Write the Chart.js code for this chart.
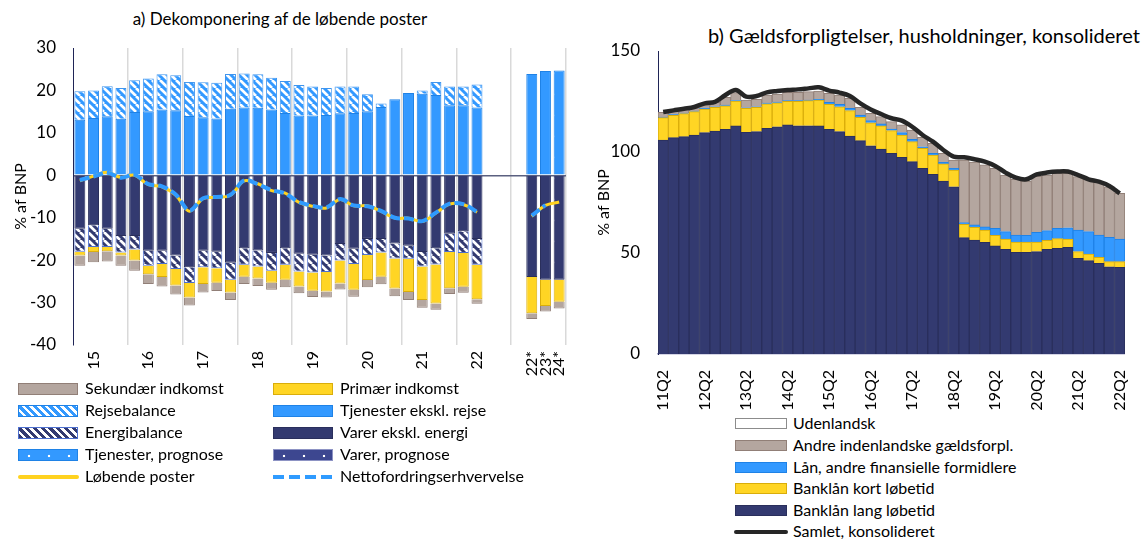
<!DOCTYPE html>
<html lang="da">
<head>
<meta charset="utf-8">
<script src="https://cdn.jsdelivr.net/npm/chart.js@4"></script>
<style>
  body { margin: 0; background: #fff; font-family: Lato, "Noto Sans", sans-serif; color: #000; }
  #wrap { position: relative; width: 1147px; height: 540px; overflow: hidden; }
  canvas { position: absolute; }
  .title { position: absolute; font-size: 17px; white-space: nowrap; }
  .leg { position: absolute; font-size: 16px; white-space: nowrap; line-height: 18px; }
  .sw { position: absolute; box-sizing: border-box; }
</style>
</head>
<body>
<div id="wrap">
  <div class="title" style="left:0;width:560px;top:8px;text-align:center">a) Dekomponering af de løbende poster</div>
  <div class="title" style="left:708px;top:23px;font-size:20px">b) Gældsforpligtelser, husholdninger, konsolideret</div>
  <canvas id="chartA" width="590" height="382" style="left:0;top:0"></canvas>
  <canvas id="chartB" width="557" height="410" style="left:590px;top:0"></canvas>
  <div id="legendA"></div>
  <div id="legendB"></div>
</div>
<script>
// Venstre figur: kvartaler 2015K1-2022K2, tomme pladser og prognoser 22*-24*
const labelsA = [
  "15K1", "15K2", "15K3", "15K4", "16K1", "16K2", "16K3", "16K4",
  "17K1", "17K2", "17K3", "17K4", "18K1", "18K2", "18K3", "18K4",
  "19K1", "19K2", "19K3", "19K4", "20K1", "20K2", "20K3", "20K4",
  "21K1", "21K2", "21K3", "21K4", "22K1", "22K2", "22K3", "22K4",
  "", "22*", "23*", "24*",
];
const N = null;
const tjenester = [13.1, 13.5, 13.9, 13.3, 14.9, 15.1, 15.5, 15.3, 14.0, 13.7, 13.4, 15.7, 16.0, 15.9, 15.5, 14.7,
  14.1, 14.1, 14.2, 14.6, 14.7, 15.1, 16.1, 17.9, 19.4, 19.2, 18.9, 16.5, 16.5, 16.0, N, N, N, N, N, N];
const rejse = [6.7, 6.5, 7.1, 7.3, 7.5, 7.7, 8.3, 8.3, 8.0, 8.2, 8.4, 8.2, 8.0, 7.9, 7.5, 7.5,
  7.2, 6.8, 6.4, 6.3, 6.2, 4.0, 0.8, 0, 0, 0.8, 3.1, 4.4, 4.4, 5.4, N, N, N, N, N, N];
const tjenesterPrognose = [N, N, N, N, N, N, N, N, N, N, N, N, N, N, N, N, N, N, N, N, N, N, N, N,
  N, N, N, N, N, N, N, N, N, 23.9, 24.6, 24.7];
const varer = [-12.6, -11.8, -12.6, -14.3, -14.3, -17.8, -17.8, -18.9, -21.7, -17.8, -18.0, -20.6, -17.2, -17.7, -18.3, -17.2,
  -18.5, -18.7, -18.9, -16.2, -17.3, -15.0, -15.0, -16.1, -16.6, -18.1, -17.2, -13.8, -13.2, -15.0, N, N, N, N, N, N];
const varerPrognose = [N, N, N, N, N, N, N, N, N, N, N, N, N, N, N, N, N, N, N, N, N, N, N, N,
  N, N, N, N, N, N, N, N, N, -24.0, -24.6, -24.6];
const energi = [-5.4, -5.1, -4.3, -3.9, -3.2, -3.5, -3.1, -3.2, -3.7, -3.9, -3.9, -4.0, -3.9, -3.8, -4.2, -3.9,
  -4.2, -4.2, -3.9, -3.9, -3.6, -3.8, -3.2, -3.5, -3.1, -3.4, -3.8, -4.3, -5.1, -6.1, N, N, N, N, N, N];
const primaer = [-0.9, -1.2, -1.0, -0.7, -2.6, -2.0, -3.1, -3.9, -3.4, -3.9, -3.4, -3.0, -2.8, -2.8, -2.8, -3.5,
  -3.5, -4.3, -4.6, -5.4, -6.1, -5.9, -5.7, -7.1, -7.8, -7.9, -9.2, -8.5, -8.0, -8.1, N, N, N, -8.5, -6.2, -5.2];
const sekundaer = [-2.4, -2.4, -2.4, -2.4, -2.4, -2.3, -2.2, -2.1, -1.9, -2.0, -2.0, -1.8, -1.7, -1.8, -1.7, -1.8,
  -1.6, -1.5, -1.4, -1.4, -1.6, -1.7, -1.8, -1.8, -1.9, -1.8, -1.5, -1.4, -1.4, -1.1, N, N, N, -1.4, -1.3, -1.6];
const loebendePoster = [-1.3, -0.2, 0.7, -0.5, 0.0, -2.2, -2.7, -4.7, -8.5, -5.5, -5.2, -4.7, -1.3, -2.0, -3.6, -4.2,
  -6.4, -7.3, -7.7, -5.7, -7.2, -7.2, -8.5, -10.1, -10.1, -10.9, -8.9, -6.8, -6.9, -8.7, N, N, N, -9.7, -7.1, -6.3];
const nettofordring = [-1.1, -0.3, 0.6, -0.6, 0.1, -2.1, -2.6, -4.5, -8.3, -5.4, -5.1, -4.6, -1.2, -2.1, -3.5, -4.3,
  -6.3, -7.2, -7.6, -5.6, -7.1, -7.3, -8.4, -10.0, -10.2, -10.8, -8.8, -6.7, -6.8, -8.6, N, N, N, -9.5, -7.0, N];
const ticksA = [-40, -30, -20, -10, 0, 10, 20, 30];

// Højre figur: kvartaler 2011K2-2022K2
const labelsB = [
  "11Q2", "11Q3", "11Q4", "12Q1", "12Q2", "12Q3", "12Q4", "13Q1", "13Q2", "13Q3", "13Q4", "14Q1",
  "14Q2", "14Q3", "14Q4", "15Q1", "15Q2", "15Q3", "15Q4", "16Q1", "16Q2", "16Q3", "16Q4", "17Q1",
  "17Q2", "17Q3", "17Q4", "18Q1", "18Q2", "18Q3", "18Q4", "19Q1", "19Q2", "19Q3", "19Q4", "20Q1",
  "20Q2", "20Q3", "20Q4", "21Q1", "21Q2", "21Q3", "21Q4", "22Q1", "22Q2",
];
const bankLang = [105.9, 107.1, 107.6, 108.4, 109.6, 110.4, 111.2, 112.9, 109.7, 110.1, 111.7, 112.5, 113.4, 113.0, 113.0,
  112.9, 111.2, 110.1, 107.9, 105.6, 103.1, 101.5, 99.3, 97.4, 95.2, 91.9, 88.9, 85.6, 82.8, 57.6,
  56.4, 55.3, 53.5, 51.8, 50.3, 50.3, 50.7, 51.8, 52.3, 52.8, 47.4, 46.2, 44.9, 43.2, 42.9];
const bankKort = [11.1, 11.1, 11.4, 11.6, 11.7, 11.7, 11.7, 12.3, 11.9, 12.0, 12.2, 11.9, 11.7, 12.1, 12.4,
  12.8, 12.4, 12.3, 12.6, 11.6, 11.4, 11.4, 11.3, 11.0, 9.9, 9.9, 9.6, 8.5, 8.3, 6.6,
  6.3, 6.1, 5.2, 5.1, 5.1, 5.1, 4.7, 4.5, 4.8, 4.1, 3.3, 3.3, 3.0, 2.5, 2.8];
const laanAndre = [0.3, 0.3, 0.3, 0.3, 0.3, 0.3, 0.3, 0.3, 0.3, 0.3, 0.3, 0.3, 0.3, 0.3, 0.3,
  0.4, 1.0, 1.2, 1.1, 1.1, 1.0, 1.0, 0.8, 1.2, 1.2, 0.8, 0.8, 0.8, 0.8, 0.8,
  1.2, 1.5, 3.5, 3.7, 3.5, 3.3, 4.8, 4.8, 5.1, 5.6, 10.7, 11.1, 11.0, 12.1, 11.2];
const andreIndl = [2.3, 2.0, 1.8, 1.7, 1.7, 2.2, 3.9, 3.9, 3.8, 3.7, 4.0, 4.0, 4.1, 4.1, 4.2,
  4.1, 4.4, 4.6, 5.0, 3.8, 3.6, 3.6, 3.6, 3.8, 4.6, 4.7, 5.0, 4.4, 4.1, 31.0,
  31.1, 30.7, 29.7, 28.0, 27.6, 26.9, 27.7, 27.5, 27.2, 26.9, 26.4, 25.9, 26.4, 25.0, 22.6];
const udenlandsk = [0, 0, 0, 0, 0, 0, 0, 0, 0, 0, 0, 0, 0, 0, 0, 0, 0, 0, 0, 0, 0, 0, 0,
  0, 0, 0, 0, 0, 0, 0, 0, 0, 0, 0, 0, 0, 0, 0, 0, 0, 0, 0, 0, 0, 0];
const samlet = [119.8, 120.6, 121.4, 122.3, 124.1, 124.8, 128.2, 130.7, 127.4, 127.7, 129.5, 130.2, 130.7, 131.0, 131.5,
  132.0, 130.4, 129.4, 127.7, 124.1, 121.1, 118.8, 116.7, 115.5, 112.5, 108.4, 105.1, 101.0, 97.7, 97.4,
  96.4, 95.2, 93.1, 89.8, 87.3, 86.5, 88.9, 89.8, 90.3, 90.3, 88.6, 86.5, 85.3, 83.2, 79.5];

const C = {
  blue: "#3399ff", blueLine: "#1f82e6", navy: "#333a70", navyLine: "#2a2f5c",
  yellow: "#ffd524", yellowLine: "#d9ad0b", grey: "#b4a69f", greyLine: "#917f77",
};

function stripes(bg, fg, size) {
  const c = document.createElement("canvas");
  c.width = c.height = size;
  const g = c.getContext("2d");
  g.fillStyle = bg;
  g.fillRect(0, 0, size, size);
  g.strokeStyle = fg;
  g.lineWidth = size / 3;
  g.beginPath();
  for (const o of [-size, 0, size]) {
    g.moveTo(o, 0);
    g.lineTo(o + size, size);
  }
  g.stroke();
  return g.createPattern(c, "repeat");
}

function dots(bg, w, h) {
  const c = document.createElement("canvas");
  c.width = w;
  c.height = h;
  const g = c.getContext("2d");
  g.fillStyle = bg;
  g.fillRect(0, 0, w, h);
  g.fillStyle = "rgba(255,255,255,0.85)";
  g.beginPath();
  g.arc(w / 2, h / 2, 1.4, 0, Math.PI * 2);
  g.fill();
  return g.createPattern(c, "repeat");
}

const font = { family: "Lato", size: 17 };

document.addEventListener("DOMContentLoaded", () => {
  const bar = (label, data, bg, border) => ({
    type: "bar", label, data, backgroundColor: bg, borderColor: border, borderWidth: 1, order: 2,
  });

  new Chart(document.getElementById("chartA"), {
    type: "bar",
    data: {
      labels: labelsA,
      datasets: [
        bar("Tjenester ekskl. rejse", tjenester, C.blue, C.blueLine),
        bar("Tjenester, prognose", tjenesterPrognose, dots(C.blue, 14, 21), C.blueLine),
        bar("Rejsebalance", rejse, stripes(C.blue, "#ffffff", 8), "#3f95ee"),
        bar("Varer ekskl. energi", varer, C.navy, C.navyLine),
        bar("Varer, prognose", varerPrognose, dots(C.navy, 14, 21), C.navyLine),
        bar("Energibalance", energi, stripes(C.navy, "#ffffff", 8), "#4d6fcf"),
        bar("Primær indkomst", primaer, C.yellow, C.yellowLine),
        bar("Sekundær indkomst", sekundaer, C.grey, C.greyLine),
        // linjerne har hver sin stak, så de ikke lægges oven i hinanden
        {
          type: "line", label: "Løbende poster", data: loebendePoster, order: 1, stack: "lp",
          borderColor: "#ffd21f", borderWidth: 3, pointRadius: 0, tension: 0.35, spanGaps: false,
        },
        {
          type: "line", label: "Nettofordringserhvervelse", data: nettofordring, order: 0, stack: "nf",
          borderColor: "#2f9bff", borderWidth: 4, borderDash: [10, 4], pointRadius: 0, tension: 0.35, spanGaps: false,
        },
      ],
    },
    options: {
      responsive: false,
      animation: false,
      layout: { padding: { top: 48, right: 24, left: 0, bottom: 0 } },
      datasets: { bar: { categoryPercentage: 1, barPercentage: 0.8 } },
      plugins: { legend: { display: false }, tooltip: { enabled: false } },
      scales: {
        x: {
          stacked: true,
          afterFit: (s) => { s.height = 37; },
          border: { display: false },
          grid: {
            offset: true,
            drawTicks: false,
            lineWidth: 1.5,
            color: (ctx) => (ctx.index === undefined || (ctx.index > 0 && ctx.index % 4 === 0)) ? "#d9d9d9" : "transparent",
          },
          ticks: {
            autoSkip: false, maxRotation: 90, minRotation: 90, padding: 6, color: "#000",
            font: { family: "Lato", size: 16 },
            callback: (v, i) => {
              const l = labelsA[i];
              if (l.includes("*")) return l;
              return l.endsWith("K2") ? l.slice(0, 2) : "";
            },
          },
        },
        y: {
          stacked: true,
          z: 1,
          min: ticksA[0],
          max: ticksA[ticksA.length - 1],
          afterFit: (s) => { s.width = 73; },
          afterBuildTicks: (s) => { s.ticks = ticksA.map((v) => ({ value: v })); },
          border: { color: "#1f2456", width: 1 },
          grid: {
            drawTicks: false,
            lineWidth: 1.5,
            color: (ctx) => (ctx.tick && ctx.tick.value === 0 ? "#5b6080" : "transparent"),
          },
          ticks: { padding: 17, color: "#000", font },
          title: { display: true, text: "% af BNP", color: "#000", font: { family: "Lato", size: 16 }, padding: { top: 11, bottom: 0 } },
        },
      },
    },
  });

  new Chart(document.getElementById("chartB"), {
    type: "bar",
    data: {
      labels: labelsB,
      datasets: [
        bar("Banklån lang løbetid", bankLang, C.navy, C.navyLine),
        bar("Banklån kort løbetid", bankKort, C.yellow, C.yellowLine),
        bar("Lån, andre finansielle formidlere", laanAndre, C.blue, C.blueLine),
        bar("Andre indenlandske gældsforpl.", andreIndl, C.grey, C.greyLine),
        { ...bar("Udenlandsk", udenlandsk, "#ffffff", "#8c8c8c"), borderWidth: 0 },
        {
          type: "line", label: "Samlet, konsolideret", data: samlet, order: 0, stack: "samlet",
          borderColor: "#262626", borderWidth: 4.5, pointRadius: 0, tension: 0.35,
        },
      ],
    },
    options: {
      responsive: false,
      animation: false,
      layout: { padding: { top: 51, right: 10, left: 0, bottom: 0 } },
      datasets: { bar: { categoryPercentage: 1, barPercentage: 1 } },
      plugins: { legend: { display: false }, tooltip: { enabled: false } },
      scales: {
        x: {
          stacked: true,
          afterFit: (s) => { s.height = 56; },
          border: { color: "#a9a9cc", width: 1.5 },
          grid: { display: false },
          ticks: {
            autoSkip: false, maxRotation: 90, minRotation: 90, padding: 8, color: "#000",
            font: { family: "Lato", size: 16 },
            callback: (v, i) => (i % 4 === 0 ? labelsB[i] : ""),
          },
        },
        y: {
          stacked: true,
          min: 0,
          max: 150,
          afterFit: (s) => { s.width = 68; },
          border: { color: "#1f2456", width: 1 },
          grid: { display: false, drawTicks: false },
          ticks: { stepSize: 50, padding: 18, color: "#000", font },
          title: { display: true, text: "% af BNP", color: "#000", font: { family: "Lato", size: 16 }, padding: { top: 4, bottom: 0 } },
        },
      },
    },
  });

  // Forklaringer under figurerne
  const hatch = (c) => `repeating-linear-gradient(45deg, ${c} 0 3px, #fff 3px 5.5px)`;
  const dotted = (c) => `radial-gradient(circle, #fff 1.2px, transparent 1.6px) 0 0 / 20px 12px, ${c}`;
  const legendA = [
    ["Sekundær indkomst", C.grey, C.greyLine, 18, 389],
    ["Primær indkomst", C.yellow, C.yellowLine, 273, 389],
    ["Rejsebalance", hatch(C.blue), C.blueLine, 18, 411],
    ["Tjenester ekskl. rejse", C.blue, C.blueLine, 273, 411],
    ["Energibalance", hatch(C.navy), "#4d6fcf", 18, 433],
    ["Varer ekskl. energi", C.navy, C.navyLine, 273, 433],
    ["Tjenester, prognose", dotted(C.blue), C.blueLine, 18, 455],
    ["Varer, prognose", dotted("#3d4790"), "#8d93c4", 273, 455],
  ];
  const boxA = document.getElementById("legendA");
  for (const [text, bg, border, x, y] of legendA) {
    boxA.insertAdjacentHTML("beforeend",
      `<div class="sw" style="left:${x}px;top:${y - 6}px;width:60px;height:12px;background:${bg};border:1px solid ${border}"></div>` +
      `<div class="leg" style="left:${x + 67}px;top:${y - 10}px">${text}</div>`);
  }
  boxA.insertAdjacentHTML("beforeend",
    `<div class="sw" style="left:18px;top:475px;width:61px;height:4px;border-radius:2px;background:#ffd21f"></div>` +
    `<div class="leg" style="left:85px;top:467px">Løbende poster</div>` +
    `<div class="sw" style="left:273px;top:475px;width:61px;height:4px;background:repeating-linear-gradient(90deg,#2f9bff 0 11px,transparent 11px 16px)"></div>` +
    `<div class="leg" style="left:340px;top:467px">Nettofordringserhvervelse</div>`);

  const legendB = [
    ["Udenlandsk", "#ffffff", "#8c8c8c", 424],
    ["Andre indenlandske gældsforpl.", C.grey, C.greyLine, 446],
    ["Lån, andre finansielle formidlere", C.blue, C.blueLine, 468],
    ["Banklån kort løbetid", C.yellow, C.yellowLine, 489],
    ["Banklån lang løbetid", C.navy, C.navyLine, 511],
  ];
  const boxB = document.getElementById("legendB");
  for (const [text, bg, border, y] of legendB) {
    boxB.insertAdjacentHTML("beforeend",
      `<div class="sw" style="left:735px;top:${y - 6}px;width:52px;height:11px;background:${bg};border:1.5px solid ${border}"></div>` +
      `<div class="leg" style="left:793px;top:${y - 10}px">${text}</div>`);
  }
  boxB.insertAdjacentHTML("beforeend",
    `<div class="sw" style="left:734px;top:530px;width:54px;height:4px;border-radius:2px;background:#262626"></div>` +
    `<div class="leg" style="left:793px;top:522px">Samlet, konsolideret</div>`);
});
</script>
</body>
</html>
